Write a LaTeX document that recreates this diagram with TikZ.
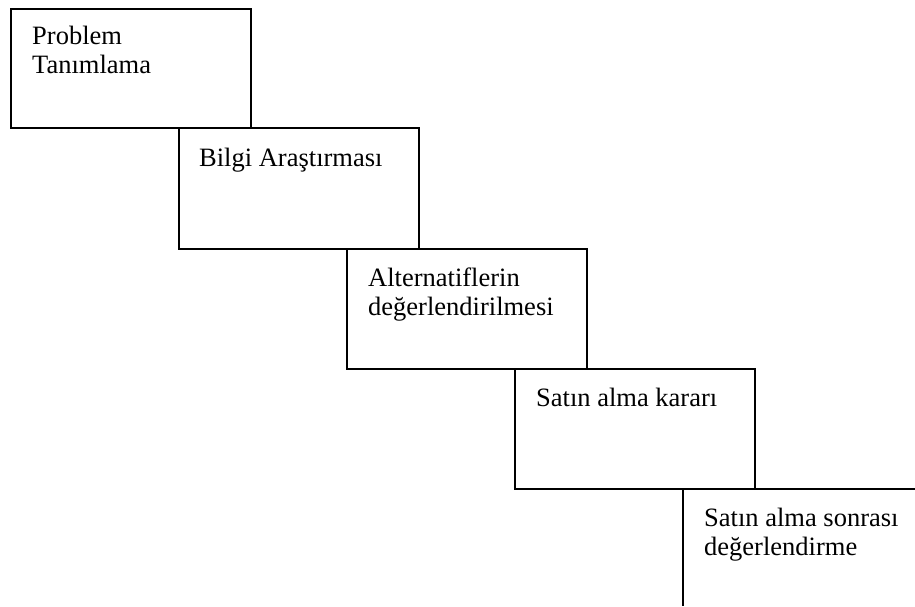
\documentclass[tikz,border=0pt]{standalone}
\usepackage{fontspec}
\setmainfont{Liberation Serif}
\begin{document}
\begin{tikzpicture}[x=1pt,y=-1pt,
  stepbox/.style={draw=black,line width=1.3pt},
  steptext/.style={anchor=base west,inner sep=0pt,font=\fontsize{26.5}{29}\selectfont,align=left}]
\useasboundingbox (0,0) rectangle (915,607);
\draw[stepbox] (11,9) rectangle (251,128);
\draw[stepbox] (179,128) rectangle (419,249);
\draw[stepbox] (347,249) rectangle (587,369);
\draw[stepbox] (515,369) rectangle (755,489);
\draw[stepbox] (915,489) -- (683,489) -- (683,606);
\node[steptext] (t1) at (32,74) {Problem\\Tanımlama};
\node[steptext] (t2) at (199,166) {Bilgi Araştırması};
\node[steptext] (t3) at (368,315) {Alternatiflerin\\değerlendirilmesi};
\node[steptext] (t4) at (536,406) {Satın alma kararı};
\node[steptext] (t5) at (704,555) {Satın alma sonrası\\değerlendirme};
\end{tikzpicture}
\end{document}
